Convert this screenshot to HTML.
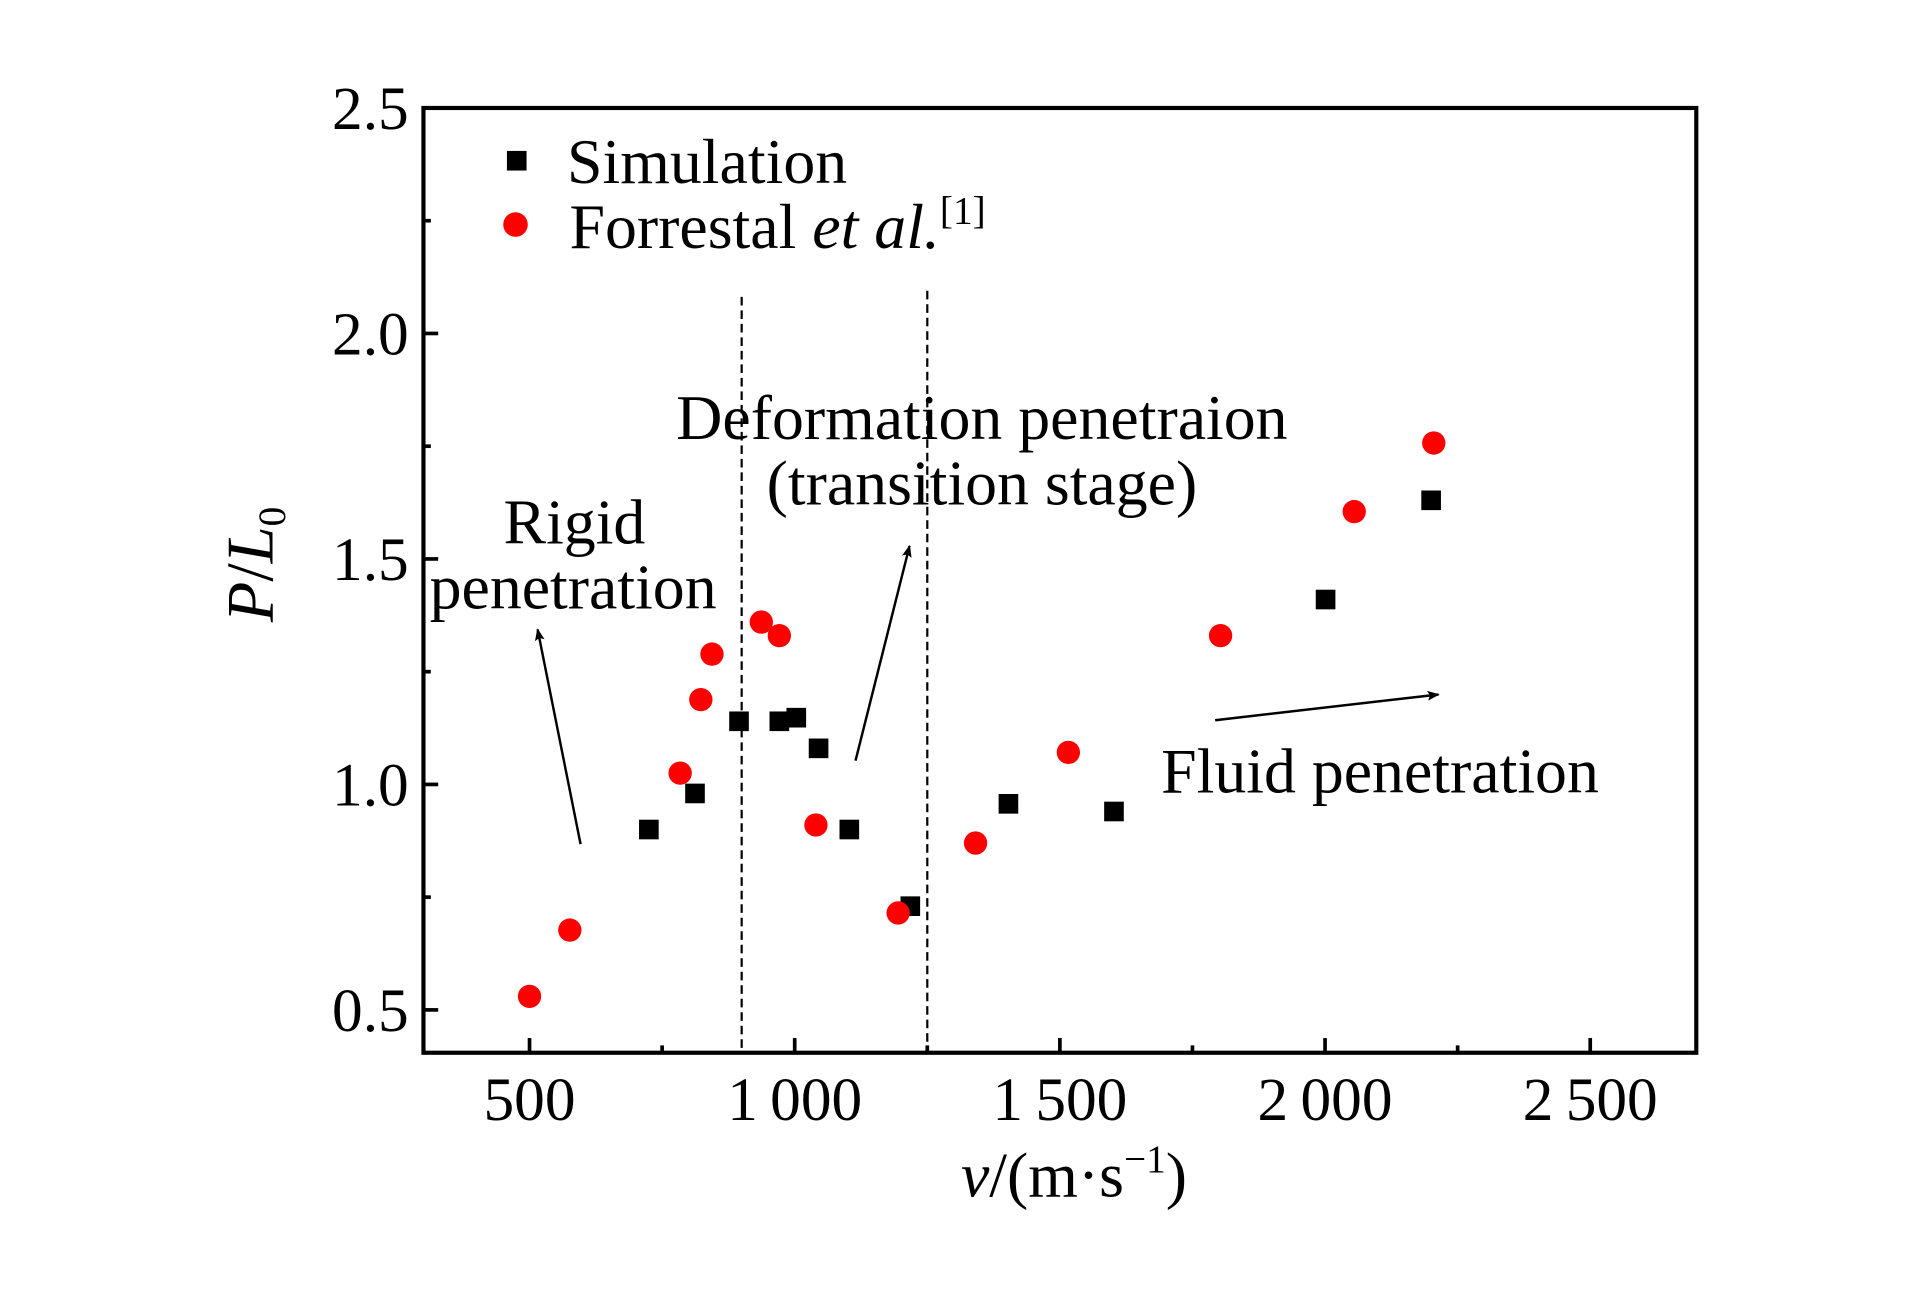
<!DOCTYPE html>
<html><head><meta charset="utf-8"><style>
html,body{margin:0;padding:0;background:#fff;}
svg{display:block;font-family:"Liberation Serif",serif;}
</style></head><body>
<svg id="chart" width="1923" height="1299" viewBox="0 0 1566.7 1058.7" preserveAspectRatio="none" xmlns="http://www.w3.org/2000/svg">
<g id="plot"></g>
</svg>
<script>
const xTicks = [500, 1000, 1500, 2000, 2500];
const xTickLabels = ["500", "1\u2009000", "1\u2009500", "2\u2009000", "2\u2009500"];
const yTicks = [0.5, 1.0, 1.5, 2.0, 2.5];
const yTickLabels = ["0.5", "1.0", "1.5", "2.0", "2.5"];
const simX = [725, 812, 895, 971, 1003, 1045, 1103, 1218, 1403, 1602, 2001, 2200];
const simY = [0.90, 0.98, 1.14, 1.14, 1.148, 1.08, 0.90, 0.73, 0.957, 0.94, 1.41, 1.63];
const forX = [500, 576, 784, 823, 844, 937, 971, 1040, 1195, 1341, 1516, 1803, 2055, 2205];
const forY = [0.53, 0.677, 1.025, 1.188, 1.289, 1.36, 1.33, 0.91, 0.715, 0.87, 1.071, 1.33, 1.605, 1.757];
const stageBounds = [900, 1250];

const L=345, R=1382, T=88, B=858;
const X0=300, X1=2700, Y0=0.405, Y1=2.5;
function sx(v){return L+(v-X0)/(X1-X0)*(R-L);}
function sy(v){return B-(v-Y0)/(Y1-Y0)*(B-T);}
const NS="http://www.w3.org/2000/svg";
const g=document.getElementById('plot');
function mk(tag,attrs,parent){const e=document.createElementNS(NS,tag);for(const k in attrs)e.setAttribute(k,attrs[k]);(parent||g).appendChild(e);return e;}

const frame=mk('rect',{x:L,y:T,width:R-L,height:B-T,fill:'none',stroke:'#000','stroke-width':3.4});



for(let v=500; v<=2500; v+=250){
  const major = v%500===0;
  const t=mk('line',{x1:sx(v),x2:sx(v),y1:B,y2:B-(major?12:6),stroke:'#000','stroke-width':3});
  
  
}
xTicks.forEach((v,i)=>{
  const t=mk('text',{x:sx(v),y:B+55,'text-anchor':'middle','font-size':50});
  t.textContent=xTickLabels[i];
  
  
});
for(let v=0.5; v<=2.5001; v+=0.25){
  const major = Math.abs(v*2-Math.round(v*2))<1e-6;
  const t=mk('line',{x1:L,x2:L+(major?12:6),y1:sy(v),y2:sy(v),stroke:'#000','stroke-width':3});
  
  
}
yTicks.forEach((v,i)=>{
  const t=mk('text',{x:L-12,y:sy(v)+17,'text-anchor':'end','font-size':50});
  t.textContent=yTickLabels[i];
  
  
});

stageBounds.forEach((v,i)=>{
  const d=mk('line',{x1:sx(v),x2:sx(v),y1:i===0?242:237,y2:B,stroke:'#000','stroke-width':1.8,'stroke-dasharray':'7,4'});
  
  
});

const defs=mk('defs',{});
const mkr=mk('marker',{id:'ah',markerWidth:10,markerHeight:8,refX:9,refY:4,orient:'auto',markerUnits:'userSpaceOnUse'},defs);
mk('path',{d:'M0,0 L10,4 L0,8 L2,4 Z',fill:'#000'},mkr);
[[473,688,438,513],[697,620,741,445],[990,587,1172,566]].forEach(a=>{
  const l=mk('line',{x1:a[0],y1:a[1],x2:a[2],y2:a[3],stroke:'#000','stroke-width':2,'marker-end':'url(#ah)'});
  
  
});

simX.forEach((v,i)=>{
  const s=mk('rect',{x:sx(v)-8,y:sy(simY[i])-8,width:16,height:16,fill:'#000'});
  
  
});
forX.forEach((v,i)=>{
  const c=mk('circle',{cx:sx(v),cy:sy(forY[i]),r:9.5,fill:'#ff0000'});
  
  
});

const ls=mk('rect',{x:413,y:123,width:16,height:16,fill:'#000'});


const lc=mk('circle',{cx:420,cy:183,r:10,fill:'#ff0000'});



function txt(x,y,html,name,anchor,size){
  const t=mk('text',{x:x,y:y,'text-anchor':anchor||'start','font-size':size||52});
  t.innerHTML=html;
  
  
  return t;
}
txt(462,149,'Simulation','legend-simulation-label');
txt(464,202,'Forrestal <tspan font-style="italic">et al.</tspan><tspan font-size="32" dy="-20">[1]</tspan>','legend-forrestal-label');
txt(468,443,'Rigid','annotation-rigid','middle');
txt(350,496,'penetration','annotation-rigid-2');
txt(800,358,'Deformation penetraion','annotation-deformation','middle');
txt(800,411,'(transition stage)','annotation-transition','middle');
txt(946,646,'Fluid penetration','annotation-fluid');
txt(875,975,'<tspan font-style="italic">v</tspan>/(m·s<tspan font-size="32" dy="-20">−1</tspan><tspan dy="20">)</tspan>','x-axis-title','middle',52);
const yt=txt(0,0,'<tspan font-style="italic">P</tspan>/<tspan font-style="italic">L</tspan><tspan font-size="32" dy="10">0</tspan>','y-axis-title','middle',54);
yt.setAttribute('transform','translate(222,460) rotate(-90)');
</script>
</body></html>
